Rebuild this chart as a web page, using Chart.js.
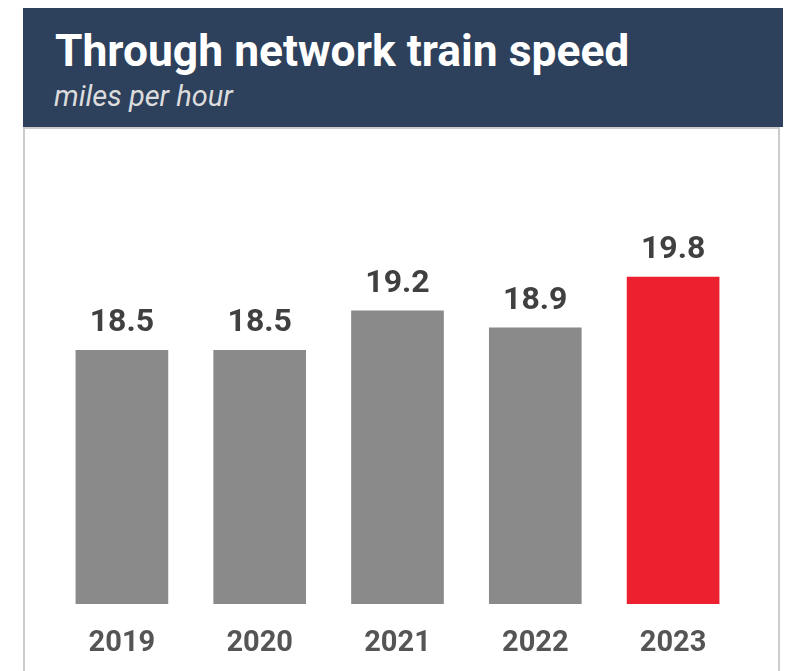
<!DOCTYPE html>
<html>
<head>
<meta charset="utf-8">
<script src="https://cdn.jsdelivr.net/npm/chart.js@4/dist/chart.umd.min.js"></script>
<style>
  html, body { margin: 0; padding: 0; background: #ffffff; width: 792px; height: 671px; overflow: hidden; }
  #header { position: absolute; left: 23px; top: 8px; width: 760px; height: 119px; background: #2d405c; }
  #title { position: absolute; left: 32px; top: 21px; font-family: Roboto, sans-serif; font-weight: 700; font-size: 44.4px; color: #ffffff; white-space: nowrap; line-height: 1; }
  #subtitle { position: absolute; left: 31px; top: 73.5px; font-family: Roboto, sans-serif; font-style: italic; font-size: 29px; color: #dcdcdc; white-space: nowrap; line-height: 1; }
  #panel { position: absolute; left: 23px; top: 127px; width: 753px; height: 560px; border: 2px solid #cccccc; background: #ffffff; }
  #wrap { position: absolute; left: 24px; top: 129px; width: 755px; height: 542px; }
</style>
</head>
<body>
<div id="header">
  <div id="title">Through network train speed</div>
  <div id="subtitle">miles per hour</div>
</div>
<div id="panel"></div>
<div id="wrap"><canvas id="c"></canvas></div>
<script>
const years = ["2019", "2020", "2021", "2022", "2023"];
const speeds = [18.5, 18.5, 19.2, 18.9, 19.8];
const barColors = ["#8a8a8a", "#8a8a8a", "#8a8a8a", "#8a8a8a", "#ec202e"];

const valueLabels = {
  id: "valueLabels",
  afterDatasetsDraw(chart) {
    const ctx = chart.ctx;
    const meta = chart.getDatasetMeta(0);
    ctx.save();
    ctx.font = "700 32px Roboto, sans-serif";
    ctx.fillStyle = "#404040";
    ctx.textAlign = "center";
    ctx.textBaseline = "alphabetic";
    meta.data.forEach((bar, i) => {
      ctx.fillText(speeds[i].toFixed(1), bar.x, bar.y - 19);
    });
    ctx.restore();
  }
};

new Chart(document.getElementById("c"), {
  type: "bar",
  data: {
    labels: years,
    datasets: [{
      data: speeds,
      backgroundColor: barColors,
      borderWidth: 0,
      barThickness: 92
    }]
  },
  options: {
    responsive: true,
    maintainAspectRatio: false,
    animation: false,
    layout: { padding: { left: 29, right: 37, top: 24, bottom: 0 } },
    plugins: { legend: { display: false }, tooltip: { enabled: false } },
    scales: {
      y: { display: false, min: 14, max: 22 },
      x: {
        grid: { display: false, drawTicks: false },
        border: { display: false },
        ticks: {
          color: "#555555",
          padding: 22,
          font: { family: "Roboto, sans-serif", weight: "700", size: 29 }
        },
        afterFit: (scale) => { scale.height = 67; }
      }
    }
  },
  plugins: [valueLabels]
});
</script>
</body>
</html>
